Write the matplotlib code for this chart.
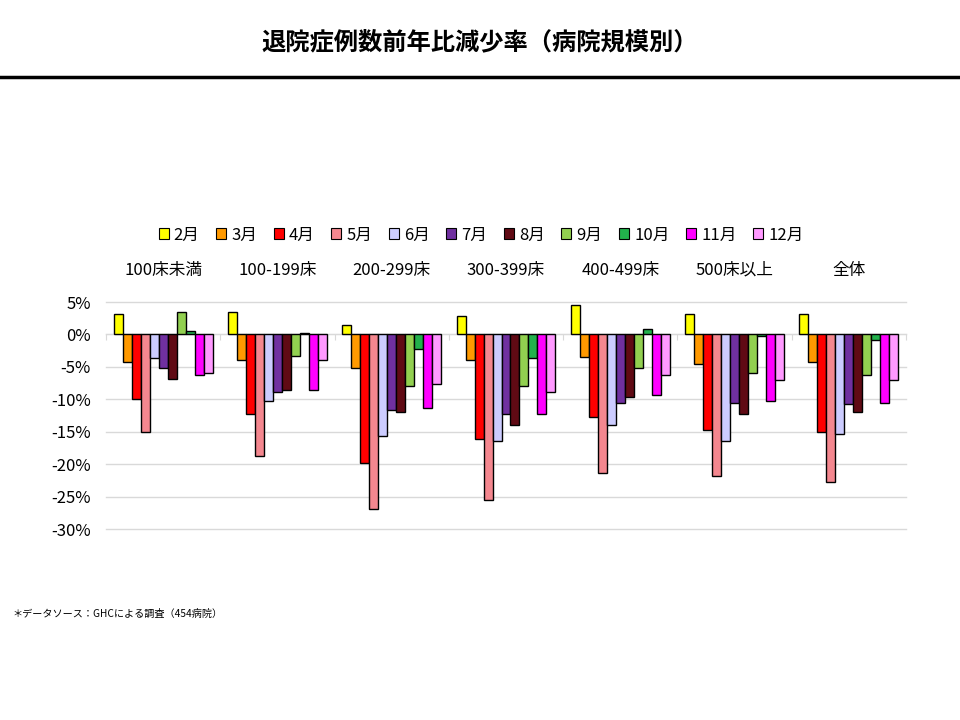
import matplotlib
matplotlib.use("Agg")
import matplotlib.pyplot as plt
import matplotlib.transforms as mtransforms
from matplotlib.patches import Patch
import numpy as np

plt.rcParams['font.family'] = ['Noto Sans CJK JP', 'DejaVu Sans']

title = "退院症例数前年比減少率（病院規模別）"
footnote = "＊データソース：GHCによる調査（454病院）"
categories = ["100床未満", "100-199床", "200-299床", "300-399床", "400-499床", "500床以上", "全体"]
months = ["2月", "3月", "4月", "5月", "6月", "7月", "8月", "9月", "10月", "11月", "12月"]

m02 = [3.2, 3.4, 1.4, 2.8, 4.6, 3.2, 3.2]
m03 = [-4.3, -4.0, -5.2, -4.0, -3.5, -4.6, -4.3]
m04 = [-9.9, -12.3, -19.8, -16.2, -12.8, -14.7, -15.1]
m05 = [-15.1, -18.8, -26.9, -25.6, -21.3, -21.8, -22.8]
m06 = [-3.7, -10.3, -15.7, -16.5, -14.0, -16.5, -15.4]
m07 = [-5.2, -8.8, -11.7, -12.2, -10.5, -10.5, -10.8]
m08 = [-6.9, -8.5, -11.9, -14.0, -9.7, -12.3, -11.9]
m09 = [3.4, -3.4, -7.9, -7.9, -5.1, -6.0, -6.2]
m10 = [0.5, 0.2, -2.2, -3.7, 0.8, -0.2, -0.9]
m11 = [-6.3, -8.6, -11.4, -12.2, -9.3, -10.3, -10.5]
m12 = [-6.0, -3.9, -7.6, -8.8, -6.3, -7.1, -7.1]
series = [m02, m03, m04, m05, m06, m07, m08, m09, m10, m11, m12]

colors = ["#FFFF00", "#FF9900", "#FF0000", "#F4878F", "#CCCCFF", "#7030A0",
          "#600A14", "#92D050", "#22B14C", "#FF00FF", "#FF99FF"]

yticks = [5, 0, -5, -10, -15, -20, -25, -30]

fig = plt.figure(figsize=(9.6, 7.2), dpi=100)
fig.patch.set_facecolor("white")

# title and rule
fig.text(0.5, 1 - 42 / 720, title, ha="center", va="center", fontsize=17.5, fontweight="bold")
fig.add_artist(plt.Line2D([0, 1], [1 - 77 / 720, 1 - 77 / 720], color="black", lw=2.5,
                          transform=fig.transFigure))

ax = fig.add_axes([106 / 960, 1 - 529 / 720, 800 / 960, 227 / 720])
x = np.arange(len(categories))
n = len(series)
bw = 0.866 / n
for i, (vals, c, m) in enumerate(zip(series, colors, months)):
    ax.bar(x - 0.433 + bw * (i + 0.5), vals, width=bw, color=c, edgecolor="black",
           linewidth=1.0, label=m, zorder=2)

ax.set_xlim(-0.5, len(categories) - 0.5)
ax.set_ylim(-30, 5)
ax.set_yticks(yticks)
ax.set_yticklabels([f"{v}%" for v in yticks], fontsize=12)
ax.tick_params(axis="y", length=0, pad=11)
ax.yaxis.grid(True, color="#D9D9D9", lw=1)
for gl in ax.get_ygridlines():
    gl.set_clip_on(False)
ax.set_axisbelow(True)
for s in ["top", "right", "left"]:
    ax.spines[s].set_visible(False)
ax.spines["bottom"].set_position(("data", 0))
ax.spines["bottom"].set_color("#D9D9D9")
ax.spines["bottom"].set_zorder(1)
ax.set_xticks(np.arange(len(categories) + 1) - 0.5)
ax.set_xticklabels([])
ax.tick_params(axis="x", length=4, color="#D9D9D9", direction="out")

trans = mtransforms.blended_transform_factory(ax.transData, fig.transFigure)
for xi, cat in zip(x, categories):
    ax.text(xi, 1 - 270 / 720, cat, transform=trans, ha="center", va="center", fontsize=12)

handles = [Patch(facecolor=c, edgecolor="black", linewidth=0.8) for c in colors]
fig.legend(handles, months, loc="center", bbox_to_anchor=(481 / 960, 1 - 235 / 720),
           ncol=n, frameon=False, fontsize=12, handlelength=0.6, handleheight=0.6,
           handletextpad=0.3, columnspacing=1.0)

fig.text(12 / 960, 1 - 614 / 720, footnote, ha="left", va="center", fontsize=7.3)

fig.savefig("out.png", dpi=100, facecolor="white")
